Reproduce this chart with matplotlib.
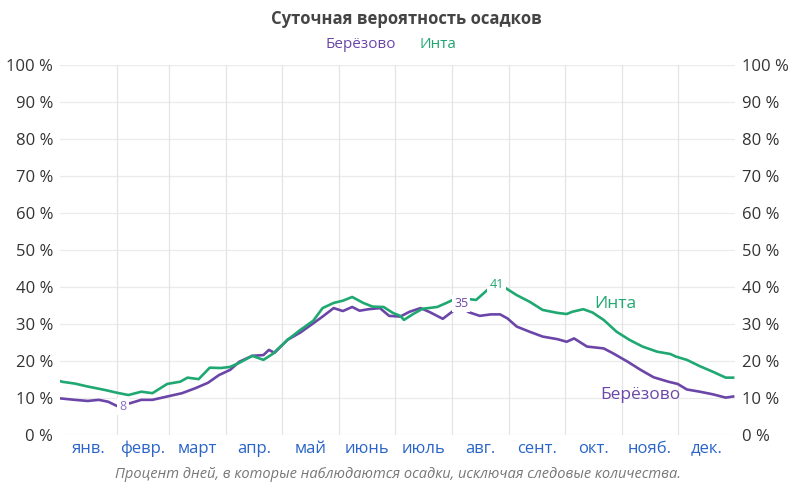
import numpy as np
import matplotlib.pyplot as plt

plt.rcParams['font.family'] = ['Open Sans', 'DejaVu Sans']

# day of year (0..365) and daily precipitation probability, %
inta_day = [0, 1, 8, 15, 24, 31, 37, 44, 50, 58, 65, 69, 75, 81, 87, 92, 97, 104,
            110, 115, 123, 130, 137, 142, 148, 153, 158, 164, 169, 175, 180, 184,
            186, 191, 196, 204, 209, 215, 220, 225, 230, 235, 241, 247, 254, 261,
            269, 274, 277, 283, 288, 294, 301, 308, 315, 323, 330, 333, 339, 346,
            353, 360, 364]
inta_val = [14.6, 14.4, 13.9, 13.1, 12.2, 11.4, 10.8, 11.7, 11.3, 13.8, 14.4, 15.5,
            15.1, 18.2, 18.1, 18.4, 19.5, 21.4, 20.3, 21.9, 25.7, 28.4, 30.9, 34.3,
            35.7, 36.3, 37.3, 35.7, 34.7, 34.6, 33.0, 32.2, 31.1, 32.7, 34.1, 34.6,
            35.7, 37.1, 36.8, 36.5, 38.7, 41.0, 39.7, 37.8, 36.0, 33.8, 33.0, 32.7,
            33.3, 34.0, 33.1, 31.1, 27.9, 25.7, 23.9, 22.5, 21.9, 21.2, 20.3, 18.6,
            17.1, 15.5, 15.5]

ber_day = [0, 8, 15, 21, 26, 31, 38, 44, 50, 58, 66, 73, 80, 86, 92, 97, 104, 110,
           113, 116, 123, 130, 137, 142, 148, 153, 158, 162, 167, 173, 178, 184,
           189, 195, 200, 207, 212, 216, 221, 227, 233, 238, 242, 247, 254, 261,
           269, 274, 278, 285, 294, 299, 307, 314, 321, 329, 334, 339, 346, 353,
           360, 364]
ber_val = [9.9, 9.5, 9.2, 9.5, 9.0, 7.8, 8.6, 9.5, 9.5, 10.4, 11.3, 12.6, 14.1,
           16.2, 17.6, 19.8, 21.4, 21.6, 23.0, 22.2, 25.7, 27.7, 30.2, 32.0, 34.3,
           33.5, 34.6, 33.6, 34.0, 34.3, 32.2, 32.0, 33.3, 34.3, 33.2, 31.4, 33.3,
           35.0, 33.2, 32.2, 32.6, 32.6, 31.5, 29.3, 27.9, 26.6, 25.9, 25.2, 26.1,
           23.9, 23.4, 22.1, 19.8, 17.6, 15.6, 14.4, 13.8, 12.3, 11.7, 11.0, 10.1,
           10.4]

months = ['янв.', 'февр.', 'март', 'апр.', 'май', 'июнь', 'июль', 'авг.',
          'сент.', 'окт.', 'нояб.', 'дек.']
month_start = [0, 31, 59, 90, 120, 151, 181, 212, 243, 273, 304, 334, 365]

GREEN = '#1fa872'
PURPLE = '#6b46a8'

fig = plt.figure(figsize=(7.88, 4.87), dpi=100)
ax = fig.add_axes([0.0761, 0.1068, 0.8566, 0.7597])

ax.plot(ber_day, ber_val, color=PURPLE, lw=1.9, solid_joinstyle='round', zorder=3)
ax.plot(inta_day, inta_val, color=GREEN, lw=1.9, solid_joinstyle='round', zorder=3)

ax.set_xlim(0, 365)
ax.set_ylim(0, 100)
ax.set_yticks(np.arange(0, 101, 10))
ax.set_yticklabels([f'{v} %' for v in range(0, 101, 10)])
ax.tick_params(axis='y', length=0, labelsize=12, labelcolor='#333333', pad=5,
               labelright=True)
for v in range(0, 101, 10):
    ax.axhline(v, color='#ebebeb', lw=0.9, zorder=1)
for d in month_start[1:-1]:
    ax.axvline(d, color='#e4e4e4', lw=0.9, zorder=1)

mids = [(a + b) / 2 for a, b in zip(month_start[:-1], month_start[1:])]
ax.set_xticks(mids)
ax.set_xticklabels(months)
ax.tick_params(axis='x', length=0, labelsize=12, labelcolor='#2a64c8', pad=4)
for s in ax.spines.values():
    s.set_visible(False)

# extreme value labels
box = dict(facecolor='white', edgecolor='none', pad=1.5)
ax.text(34, 7.8, '8', color='#8a70c0', fontsize=9, ha='center', va='center',
        bbox=box, zorder=4)
ax.text(217, 35.5, '35', color=PURPLE, fontsize=9, ha='center', va='center',
        bbox=box, zorder=4)
ax.text(236, 40.8, '41', color=GREEN, fontsize=9, ha='center', va='center',
        bbox=box, zorder=4)

ax.text(289, 35.5, 'Инта', color=GREEN, fontsize=12.5, va='center', ha='left')
ax.text(292, 10.8, 'Берёзово', color=PURPLE, fontsize=12.5, va='center', ha='left')

fig.text(0.516, 0.962, 'Суточная вероятность осадков', ha='center', va='center',
         fontsize=12, fontweight='bold', color='#444444')
fig.text(0.458, 0.908, 'Берёзово', ha='center', va='center', fontsize=11,
         color=PURPLE)
fig.text(0.556, 0.908, 'Инта', ha='center', va='center', fontsize=11,
         color=GREEN)
fig.text(0.505, 0.025, 'Процент дней, в которые наблюдаются осадки, исключая следовые количества.',
         ha='center', va='center', fontsize=10.5, style='italic', color='#777777')

fig.savefig('out.png', dpi=100, facecolor='white')
